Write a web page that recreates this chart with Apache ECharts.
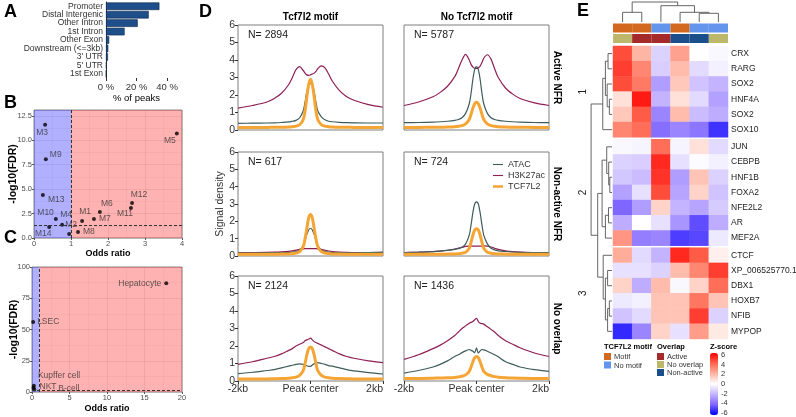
<!DOCTYPE html>
<html>
<head>
<meta charset="utf-8">
<script src="https://cdn.jsdelivr.net/npm/echarts@6/dist/echarts.min.js"></script>
<style>
html, body { margin: 0; width: 100%; height: 100%; background: #fff; }
#chart { width: 796px; height: 417px; }
</style>
</head>
<body>
<div id="chart"></div>
<script>
// ---- A: peak annotation ----
var annoCats = ['Promoter', 'Distal Intergenic', 'Other Intron', '1st Intron', 'Other Exon',
  'Downstream (<=3kb)', "3' UTR", "5' UTR", '1st Exon'];
var annoPct = [35, 28, 20.8, 12.2, 2.1, 1.5, 1.3, 0.4, 0.2];

// ---- B: module enrichment ----
var modNames = ['M3', 'M9', 'M13', 'M10', 'M4', 'M14', 'M2', 'M1', 'M7', 'M6', 'M8', 'M11', 'M12', 'M5'];
var modOR = [0.30, 0.32, 0.24, 0.59, 0.76, 0.41, 0.95, 1.30, 1.62, 1.78, 1.19, 2.62, 2.65, 3.86];
var modFDR = [11.6, 8.06, 4.4, 1.94, 1.35, 1.12, 0.41, 1.73, 1.94, 2.65, 0.61, 3.06, 3.57, 10.7];

// ---- C: cell type enrichment ----
var cellNames = ['Hepatocyte', 'LSEC', 'Kupffer cell', 'NKT', 'B-cell'];
var cellOR = [17.9, 0.15, 0.25, 0.2, 0.3];
var cellFDR = [87, 56, 5, 3.5, 2];

var orCut = 1, fdrCut = 1.3;

// ---- D: signal profiles ----
var pos = [-2000, -1600, -1200, -1000, -800, -600, -500, -400, -300, -200, -150, -100, -50, 0,
  50, 100, 150, 200, 300, 400, 500, 600, 800, 1000, 1200, 1600, 2000];
var colsD = ['Tcf7l2 motif', 'No Tcf7l2 motif'];
var rowsD = ['Active NFR', 'Non-active NFR', 'No overlap'];
var nPeaks = [2894, 5787, 617, 724, 2124, 1436];
var xTickLabels = {'-2000': '-2kb', '0': 'Peak center', '2000': '2kb'};

var h3k27acD = [
  [1.25,1.4,1.6,1.8,2.1,2.6,3.0,3.45,3.62,3.4,3.25,3.15,3.12,3.15,3.2,3.25,3.35,3.5,3.66,3.55,3.2,2.8,2.25,1.9,1.7,1.45,1.3],
  [1.4,1.6,1.9,2.15,2.5,3.05,3.5,4.0,4.32,4.0,3.75,3.6,3.52,3.52,3.55,3.65,3.85,4.1,4.3,4.05,3.5,3.0,2.4,2.05,1.8,1.55,1.4],
  [0.2,0.2,0.21,0.22,0.24,0.27,0.3,0.34,0.38,0.41,0.42,0.42,0.42,0.42,0.42,0.42,0.42,0.41,0.38,0.33,0.29,0.26,0.23,0.21,0.2,0.2,0.2],
  [0.2,0.22,0.25,0.28,0.33,0.4,0.45,0.5,0.55,0.57,0.57,0.57,0.57,0.57,0.57,0.57,0.57,0.58,0.57,0.52,0.45,0.38,0.3,0.25,0.22,0.2,0.19],
  [0.95,1.1,1.3,1.4,1.55,1.75,1.85,2.0,2.1,2.2,2.3,2.35,2.4,2.45,2.35,2.25,2.2,2.15,2.05,1.95,1.85,1.75,1.55,1.4,1.3,1.15,1.05],
  [1.24,1.5,1.85,2.05,2.3,2.6,2.8,3.0,3.15,3.3,3.35,3.4,3.5,3.58,3.4,3.3,3.28,3.25,3.1,2.95,2.8,2.6,2.3,2.1,1.9,1.6,1.4]
];
var atacD = [
  [0.38,0.39,0.4,0.41,0.43,0.46,0.5,0.55,0.7,1.1,1.6,2.2,2.55,2.65,2.55,2.2,1.6,1.1,0.75,0.58,0.5,0.47,0.44,0.42,0.41,0.4,0.4],
  [0.42,0.43,0.45,0.47,0.5,0.55,0.6,0.7,0.95,1.5,2.1,2.9,3.45,3.62,3.45,2.9,2.1,1.5,0.95,0.7,0.6,0.55,0.5,0.47,0.45,0.43,0.42],
  [0.18,0.17,0.18,0.18,0.19,0.2,0.22,0.26,0.35,0.6,0.9,1.25,1.5,1.6,1.5,1.25,0.9,0.6,0.35,0.26,0.22,0.2,0.19,0.18,0.18,0.2,0.22],
  [0.2,0.22,0.25,0.28,0.32,0.38,0.42,0.5,0.7,1.2,1.8,2.5,3.0,3.12,3.0,2.5,1.8,1.2,0.7,0.45,0.35,0.3,0.26,0.23,0.21,0.2,0.2],
  [0.42,0.5,0.6,0.65,0.75,0.85,0.9,0.95,0.98,0.95,0.9,0.87,0.84,0.84,0.92,0.98,1.02,1.05,1.0,0.95,0.88,0.85,0.75,0.65,0.58,0.48,0.4],
  [0.45,0.6,0.8,0.95,1.15,1.4,1.5,1.62,1.72,1.8,1.75,1.7,1.62,1.9,1.6,1.72,1.8,1.78,1.7,1.6,1.5,1.38,1.1,0.95,0.8,0.65,0.55]
];
var tcf7l2D = [
  [0.15,0.15,0.15,0.16,0.16,0.17,0.19,0.22,0.3,0.6,1.1,1.9,2.6,2.9,2.6,1.9,1.1,0.6,0.3,0.22,0.19,0.17,0.16,0.16,0.15,0.15,0.15],
  [0.15,0.15,0.16,0.16,0.17,0.19,0.21,0.25,0.35,0.6,0.9,1.25,1.5,1.58,1.5,1.25,0.9,0.6,0.35,0.25,0.21,0.19,0.17,0.16,0.16,0.15,0.15],
  [0.1,0.1,0.1,0.1,0.11,0.12,0.14,0.17,0.25,0.55,1.0,1.6,2.2,2.4,2.2,1.6,1.0,0.55,0.25,0.17,0.14,0.12,0.11,0.1,0.1,0.1,0.1],
  [0.1,0.1,0.1,0.1,0.11,0.12,0.13,0.16,0.22,0.45,0.8,1.2,1.5,1.57,1.5,1.2,0.8,0.45,0.22,0.16,0.13,0.12,0.11,0.1,0.1,0.1,0.1],
  [0.12,0.12,0.12,0.13,0.14,0.16,0.18,0.22,0.32,0.6,1.0,1.5,1.85,1.95,1.85,1.5,1.0,0.6,0.32,0.22,0.18,0.16,0.14,0.13,0.12,0.12,0.12],
  [0.15,0.15,0.16,0.17,0.18,0.2,0.23,0.27,0.35,0.55,0.8,1.1,1.33,1.4,1.33,1.1,0.8,0.55,0.38,0.3,0.25,0.22,0.19,0.17,0.16,0.15,0.15]
];

// ---- E: motif z-score heatmap ----
var motifNames = ['CRX', 'RARG', 'SOX2', 'HNF4A', 'SOX2', 'SOX10',
  'JUN', 'CEBPB', 'HNF1B', 'FOXA2', 'NFE2L2', 'AR', 'MEF2A',
  'CTCF', 'XP_006525770.1', 'DBX1', 'HOXB7', 'NFIB', 'MYPOP'];
var clusterSizes = [6, 7, 6];
var zscore = [
  [4.5, 2.0, -1.2, 2.5, 0.0, -0.2],
  [4.8, 3.2, -1.3, 1.8, -1.0, -0.4],
  [4.5, 3.5, -2.6, 1.5, -1.6, -2.0],
  [0.8, 5.5, -2.0, 0.8, -1.0, -2.5],
  [1.5, 4.2, -3.2, 1.8, -1.8, -2.2],
  [3.2, 3.8, -3.8, -3.2, -3.6, -5.0],
  [-0.2, -0.3, 3.8, -0.3, 0.8, -1.0],
  [-1.2, -1.3, 5.2, -0.8, -0.1, -0.4],
  [-1.5, -1.8, 5.0, -2.6, 1.6, -1.2],
  [-2.5, -0.8, 4.5, -2.4, 1.2, -1.6],
  [-4.0, -2.6, 1.2, -2.0, -2.4, -1.4],
  [-2.2, 0.0, -0.8, -2.8, -4.5, -2.2],
  [2.8, -3.4, -3.2, -4.8, -4.6, -0.6],
  [2.2, -1.0, -2.0, 5.2, 4.2, 0.4],
  [-0.8, -0.8, -1.2, 1.8, 3.2, 4.8],
  [1.2, -2.2, 1.8, -0.2, 1.2, 3.8],
  [-0.6, -0.4, 1.6, 1.6, 3.6, 1.6],
  [-1.6, -1.0, 1.6, 1.6, 4.8, -1.2],
  [-5.2, -3.2, 1.2, -0.8, 2.6, 0.6]
];
var colMotif = ['Motif', 'Motif', 'No motif', 'Motif', 'No motif', 'No motif'];
var colOverlap = ['No overlap', 'Active', 'Active', 'Non-active', 'Non-active', 'No overlap'];
var motifLevels = ['Motif', 'No motif'];
var overlapLevels = ['Active', 'No overlap', 'Non-active'];
var zTicks = [-6, 6, 2];
// dendrograms: [left, right, height]
var colTree = [[0, 1, 0.97], [2, [3, [4, 5, 0.87], 0.97], 1.63], 2.0];
var rowTree = [
  [[[0, 1, 0.18], [2, [3, 4, 0.12], 0.22], 0.3], 5, 0.42],
  [
    [[6, [7, [8, 9, 0.1], 0.15], 0.24], [[10, 11, 0.16], 12, 0.3], 0.45],
    [13, [[14, 15, 0.2], [[16, 17, 0.12], 18, 0.2], 0.3], 0.4],
    0.65
  ],
  0.95
];

// ---- colours ----
var FONT = "'Liberation Sans', Arial, sans-serif";
var cAtac = '#3e5c5c', cH3 = '#8e1f55', cTcf = '#f5a534';
var motifColors = {'Motif': '#d2691e', 'No motif': '#6495ed'};
var overlapColors = {'Active': '#a52a2a', 'No overlap': '#bdb76b', 'Non-active': '#1a4f8b'};
var zColors = ['#0000ff', '#7f66ff', '#c4b4ff', '#ffffff', '#ffb5a3', '#ff6650', '#ff0000'];

var grids = [], xAxes = [], yAxes = [], series = [], graphics = [];
function addGrid(g) { g.outerBoundsMode = 'none'; g.containLabel = false; grids.push(g); return grids.length - 1; }
function txt(s, x, y, o) {
  o = o || {};
  return {type: 'text', x: x, y: y, rotation: o.rot || 0, silent: true,
    style: {text: s, fontSize: o.size || 10, fontWeight: o.bold ? 'bold' : 'normal', fontFamily: FONT,
      fill: o.color || '#000', textAlign: o.align || 'left', textVerticalAlign: 'middle'}};
}
var tickLbl = {fontSize: 7.5, color: '#4d4d4d', fontFamily: FONT};
var noLine = {show: false, onZero: false};

// ===== A =====
var gA = addGrid({left: 106, top: 2, width: 61, height: 76});
xAxes.push({gridIndex: gA, type: 'value', min: 0, max: 40, interval: 20,
  axisLine: noLine, axisTick: {show: true, length: 3, lineStyle: {color: '#333'}},
  splitLine: {show: false},
  axisLabel: {fontSize: 9.5, color: '#333', fontFamily: FONT, margin: 4, formatter: function (v) { return v + ' %'; }},
  name: '% of peaks', nameLocation: 'middle', nameGap: 15, nameMoveOverlap: false,
  nameTextStyle: {fontSize: 9.5, color: '#000', fontFamily: FONT}});
yAxes.push({gridIndex: gA, type: 'category', data: annoCats, inverse: true,
  axisLine: {onZero: false, lineStyle: {color: '#333'}}, axisTick: {length: 3, alignWithLabel: true, lineStyle: {color: '#333'}},
  axisLabel: {fontSize: 8.5, color: '#333', margin: 3, interval: 0, fontFamily: FONT}});
series.push({type: 'bar', xAxisIndex: gA, yAxisIndex: gA, data: annoPct, barWidth: '90%',
  itemStyle: {color: '#1f4f8b', borderColor: '#0d2747', borderWidth: 0.6}, silent: true});

// ===== B / C scatter helpers =====
function enrichGrid(g, xMax, xInt, yMax, yInt, yFmt, nameGapX, nameGapY) {
  xAxes.push({gridIndex: g, type: 'value', min: 0, max: xMax, interval: xInt,
    name: 'Odds ratio', nameLocation: 'middle', nameGap: nameGapX, nameMoveOverlap: false,
    nameTextStyle: {fontSize: 9, fontWeight: 'bold', fontFamily: FONT, color: '#000'},
    axisLine: noLine, axisTick: {length: 2, lineStyle: {color: '#555'}},
    axisLabel: Object.assign({margin: 2}, tickLbl),
    splitLine: {lineStyle: {color: 'rgba(0,0,0,0.07)'}},
    minorTick: {show: false, splitNumber: 2}, minorSplitLine: {show: true, lineStyle: {color: 'rgba(0,0,0,0.035)'}}});
  yAxes.push({gridIndex: g, type: 'value', min: 0, max: yMax, interval: yInt,
    name: '-log10(FDR)', nameLocation: 'middle', nameGap: nameGapY, nameRotate: 90, nameMoveOverlap: false,
    nameTextStyle: {fontSize: 10.5, fontWeight: 'bold', fontFamily: FONT, color: '#000'},
    axisLine: noLine, axisTick: {length: 2, lineStyle: {color: '#555'}},
    axisLabel: Object.assign({margin: 2, showMaxLabel: yMax % yInt === 0, formatter: yFmt}, tickLbl),
    splitLine: {lineStyle: {color: 'rgba(0,0,0,0.07)'}},
    minorTick: {show: false, splitNumber: 2}, minorSplitLine: {show: true, lineStyle: {color: 'rgba(0,0,0,0.035)'}}});
}
// place: label position and nudge [dx, dy] for each point
function enrichSeries(g, names, xs, ys, place, xMax) {
  var data = names.map(function (n, i) {
    var p = place[n] || ['right', [0, 0]];
    return {name: n, value: [xs[i], ys[i]], label: {position: p[0]}};
  });
  series.push({type: 'scatter', xAxisIndex: g, yAxisIndex: g, data: data, symbolSize: 4,
    itemStyle: {color: '#000'}, silent: true,
    label: {show: true, formatter: '{b}', fontSize: 8.5, color: '#333', fontFamily: FONT, distance: 3},
    labelLayout: function (params) {
      var p = place[names[params.dataIndex]] || ['right', [0, 0]];
      return {dx: p[1][0], dy: p[1][1], hideOverlap: false};
    },
    markArea: {silent: true, data: [
      [{xAxis: 0, itemStyle: {color: 'rgba(0,0,255,0.31)'}}, {xAxis: orCut}],
      [{xAxis: orCut, itemStyle: {color: 'rgba(255,0,0,0.30)'}}, {xAxis: xMax}]
    ]},
    markLine: {silent: true, symbol: ['none', 'none'], label: {show: false},
      lineStyle: {type: [3, 2], color: '#333', width: 1},
      data: [{xAxis: orCut}, {yAxis: fdrCut}]}
  });
}

// ===== B =====
var gB = addGrid({left: 34, top: 110, width: 148, height: 128, show: true, borderColor: '#8c8c8c', borderWidth: 1});
enrichGrid(gB, 4, 1, 13.1, 2.5, function (v) { return v.toFixed(1); }, 11, 15);
enrichSeries(gB, modNames, modOR, modFDR, {
  M3: ['bottom', [-3, -2]], M9: ['right', [-1, -5]], M13: ['right', [0, 5]],
  M10: ['left', [3, -6]], M4: ['top', [4, -1]], M14: ['bottom', [-6, -3]],
  M2: ['top', [2, 0]], M1: ['top', [3, 0]], M7: ['right', [0, 0]], M6: ['top', [7, 1]],
  M8: ['right', [0, 0]], M11: ['bottom', [-6, -4]], M12: ['top', [7, 1]], M5: ['bottom', [-7, -2]]
}, 4);

// ===== C =====
var gC = addGrid({left: 32, top: 267, width: 150, height: 125, show: true, borderColor: '#8c8c8c', borderWidth: 1});
enrichGrid(gC, 20, 5, 100, 25, null, 12, 12);
enrichSeries(gC, cellNames, cellOR, cellFDR, {
  Hepatocyte: ['left', [0, 0]], LSEC: ['right', [-1, 0]],
  'Kupffer cell': ['right', [-1, -10]], NKT: ['right', [1, -1]], 'B-cell': ['right', [19, -1]]
}, 20);

// ===== D =====
var dLeft = [238, 404], dTop = [25, 152, 276], dH = [105, 104, 105];
for (var r = 0; r < 3; r++) {
  for (var c = 0; c < 2; c++) {
    var k = r * 2 + c;
    var g = addGrid({left: dLeft[c], top: dTop[r], width: 145, height: dH[r], show: true, borderColor: '#7f7f7f', borderWidth: 1});
    var bottom = r === 2;
    xAxes.push({gridIndex: g, type: 'value', min: -2000, max: 2000, interval: 2000,
      axisLine: noLine, splitLine: {show: false},
      axisTick: {show: bottom, length: 3, lineStyle: {color: '#333'}},
      axisLabel: {show: bottom, fontSize: 10.5, color: '#333', fontFamily: FONT, margin: 3, alignMaxLabel: 'right',
        formatter: function (v) { return xTickLabels[String(v)] || ''; }}});
    var yAx = {gridIndex: g, type: 'value', min: 0, max: 6, interval: 1,
      axisLine: noLine, splitLine: {show: false},
      axisTick: {show: c === 0, length: 3, lineStyle: {color: '#333'}},
      axisLabel: {show: c === 0, fontSize: 10.5, color: '#333', fontFamily: FONT, margin: 3}};
    if (k === 2) {
      yAx.name = 'Signal density';
      yAx.nameLocation = 'middle';
      yAx.nameGap = 12;
      yAx.nameRotate = 90;
      yAx.nameMoveOverlap = false;
      yAx.nameTextStyle = {fontSize: 10.5, color: '#333', fontFamily: FONT};
    }
    yAxes.push(yAx);
    var sets = [['H3K27ac', h3k27acD[k], cH3, 1.2], ['ATAC', atacD[k], cAtac, 1.2], ['TCF7L2', tcf7l2D[k], cTcf, 3]];
    sets.forEach(function (s) {
      series.push({type: 'line', name: s[0], xAxisIndex: g, yAxisIndex: g, symbol: 'none', showSymbol: false, smooth: 0.3,
        data: pos.map(function (p, i) { return [p, s[1][i]]; }),
        lineStyle: {color: s[2], width: s[3]}, itemStyle: {color: s[2]}, silent: true});
    });
    graphics.push(txt('N= ' + nPeaks[k], dLeft[c] + 10, dTop[r] + 10, {size: 10.5, color: '#222'}));
  }
}
colsD.forEach(function (t, c) { graphics.push(txt(t, dLeft[c] + 72.5, 17, {size: 10, bold: true, align: 'center'})); });
rowsD.forEach(function (t, r) { graphics.push(txt(t, 557, dTop[r] + dH[r] / 2, {size: 10, bold: true, align: 'center', rot: -Math.PI / 2})); });

// ===== E heatmap =====
var GAP = 0.13, rowPx = 15.21, hmLeft = 613, hmWidth = 115, hmTop = 46;
var heatIdx = [];
var start = 0;
clusterSizes.forEach(function (n, ci) {
  var g = addGrid({left: hmLeft, top: hmTop + (start + ci * GAP) * rowPx, width: hmWidth, height: n * rowPx});
  xAxes.push({gridIndex: g, type: 'category', data: colMotif.map(function (_, i) { return 'c' + i; }),
    axisLine: noLine, axisTick: {show: false}, axisLabel: {show: false}, splitLine: {show: false}});
  yAxes.push({gridIndex: g, type: 'category', data: motifNames.slice(start, start + n), inverse: true, position: 'right',
    axisLine: noLine, axisTick: {show: false}, splitLine: {show: false},
    axisLabel: {fontSize: 8.5, color: '#222', fontFamily: FONT, margin: 3, interval: 0, overflow: 'none'}});
  var d = [];
  for (var i = 0; i < n; i++) for (var j = 0; j < 6; j++) d.push([j, i, zscore[start + i][j]]);
  heatIdx.push(series.length);
  series.push({type: 'heatmap', xAxisIndex: g, yAxisIndex: g, data: d, silent: true, emphasis: {disabled: true}});
  graphics.push(txt(String(ci + 1), 583, hmTop + (start + ci * GAP + n / 2) * rowPx, {size: 10, align: 'center', rot: Math.PI / 2, color: '#222'}));
  start += n;
});

// column annotations
var gAnn = addGrid({left: hmLeft, top: 23, width: hmWidth, height: 21});
xAxes.push({gridIndex: gAnn, type: 'category', data: colMotif.map(function (_, i) { return 'c' + i; }), show: false});
yAxes.push({gridIndex: gAnn, type: 'category', data: ['motif', 'overlap'], inverse: true, show: false});
var annData = [];
colMotif.forEach(function (m, i) { annData.push([i, 0, motifColors[m]]); });
colOverlap.forEach(function (m, i) { annData.push([i, 1, overlapColors[m]]); });
series.push({type: 'custom', xAxisIndex: gAnn, yAxisIndex: gAnn, silent: true,
  data: annData.map(function (a) { return [a[0], a[1]]; }),
  renderItem: function (params, api) {
    var p = api.coord([api.value(0), api.value(1)]);
    var s = api.size([1, 1]);
    return {type: 'rect', shape: {x: p[0] - s[0] / 2, y: p[1] - s[1] / 2 + 0.5, width: s[0], height: s[1] - 1.5},
      style: {fill: annData[params.dataIndex][2]}};
  }});

// dendrograms
function walk(node, leafPos, segs, vertical) {
  if (typeof node === 'number') return {p: leafPos(node), h: 0};
  var a = walk(node[0], leafPos, segs, vertical), b = walk(node[1], leafPos, segs, vertical), h = node[2];
  if (vertical) {
    segs.push([a.p, a.h, a.p, h], [b.p, b.h, b.p, h], [a.p, h, b.p, h]);
  } else {
    segs.push([a.h, a.p, h, a.p], [b.h, b.p, h, b.p], [h, a.p, h, b.p]);
  }
  return {p: (a.p + b.p) / 2, h: h};
}
function segRender(params, api) {
  var p1 = api.coord([api.value(0), api.value(1)]);
  var p2 = api.coord([api.value(2), api.value(3)]);
  return {type: 'line', shape: {x1: p1[0], y1: p1[1], x2: p2[0], y2: p2[1]}, style: {stroke: '#555', lineWidth: 0.9}};
}
var colSegs = [];
walk(colTree, function (i) { return i + 0.5; }, colSegs, true);
var gCD = addGrid({left: hmLeft, top: 1, width: hmWidth, height: 21});
xAxes.push({gridIndex: gCD, type: 'value', min: 0, max: 6, show: false});
yAxes.push({gridIndex: gCD, type: 'value', min: 0, max: 2.1, show: false});
series.push({type: 'custom', xAxisIndex: gCD, yAxisIndex: gCD, silent: true, data: colSegs,
  encode: {x: [0, 2], y: [1, 3]}, renderItem: segRender});

var rowSegs = [];
walk(rowTree, function (i) { var k = i < 6 ? 0 : (i < 13 ? 1 : 2); return i + 0.5 + k * GAP; }, rowSegs, false);
var gRD = addGrid({left: 590, top: hmTop, width: 22, height: (19 + 2 * GAP) * rowPx});
xAxes.push({gridIndex: gRD, type: 'value', min: 0, max: 1, inverse: true, show: false});
yAxes.push({gridIndex: gRD, type: 'value', min: 0, max: 19 + 2 * GAP, inverse: true, show: false});
series.push({type: 'custom', xAxisIndex: gRD, yAxisIndex: gRD, silent: true, data: rowSegs,
  encode: {x: [0, 2], y: [1, 3]}, renderItem: segRender});

// colour bar axis
var gCB = addGrid({left: 710, top: 355, width: 8, height: 58});
xAxes.push({gridIndex: gCB, type: 'value', show: false, min: 0, max: 1});
yAxes.push({gridIndex: gCB, type: 'value', min: zTicks[0], max: zTicks[1], interval: zTicks[2], position: 'right',
  axisLine: noLine, splitLine: {show: false},
  axisTick: {show: true, inside: true, length: 3, lineStyle: {color: '#fff'}},
  axisLabel: {fontSize: 7.5, color: '#333', fontFamily: FONT, margin: 3}});
series.push({type: 'scatter', xAxisIndex: gCB, yAxisIndex: gCB, data: [], silent: true});

// E legends
graphics.push(txt('TCF7L2 motif', 604, 347, {size: 7.5, bold: true}));
motifLevels.forEach(function (m, i) {
  graphics.push({type: 'rect', shape: {x: 604, y: 353 + i * 8.5, width: 7, height: 7}, style: {fill: motifColors[m]}, silent: true});
  graphics.push(txt(m, 614, 357 + i * 8.5, {size: 7.5, color: '#333'}));
});
graphics.push(txt('Overlap', 657, 347, {size: 7.5, bold: true}));
overlapLevels.forEach(function (m, i) {
  graphics.push({type: 'rect', shape: {x: 657, y: 353 + i * 8, width: 7, height: 7}, style: {fill: overlapColors[m]}, silent: true});
  graphics.push(txt(m, 667, 357 + i * 8, {size: 7.5, color: '#333'}));
});
graphics.push(txt('Z-score', 710, 347, {size: 7.5, bold: true}));

// panel letters
[['A', 4, 12], ['B', 4, 103], ['C', 4, 238], ['D', 199, 12], ['E', 577, 11]].forEach(function (l) {
  graphics.push(txt(l[0], l[1], l[2], {size: 18, bold: true}));
});

var option = {
  animation: false,
  backgroundColor: '#fff',
  textStyle: {fontFamily: FONT},
  grid: grids,
  xAxis: xAxes,
  yAxis: yAxes,
  legend: {data: [
      {name: 'ATAC', icon: 'path://M0,0H12V1.3H0Z'},
      {name: 'H3K27ac', icon: 'path://M0,0H12V1.3H0Z'},
      {name: 'TCF7L2', icon: 'path://M0,0H12V3H0Z'}],
    orient: 'vertical', left: 493, top: 160, itemGap: 2, symbolKeepAspect: true,
    itemWidth: 10, itemHeight: 8, selectedMode: false, padding: 0,
    textStyle: {fontSize: 9, color: '#333', fontFamily: FONT}},
  visualMap: {type: 'continuous', min: zTicks[0], max: zTicks[1], seriesIndex: heatIdx, inRange: {color: zColors},
    calculable: false, left: 710, top: 353, itemWidth: 8, itemHeight: 62, padding: 0, text: null,
    showLabel: false, hoverLink: false},
  graphic: graphics,
  series: series
};

var myChart = echarts.init(document.getElementById('chart'));
myChart.setOption(option);
</script>
</body>
</html>
